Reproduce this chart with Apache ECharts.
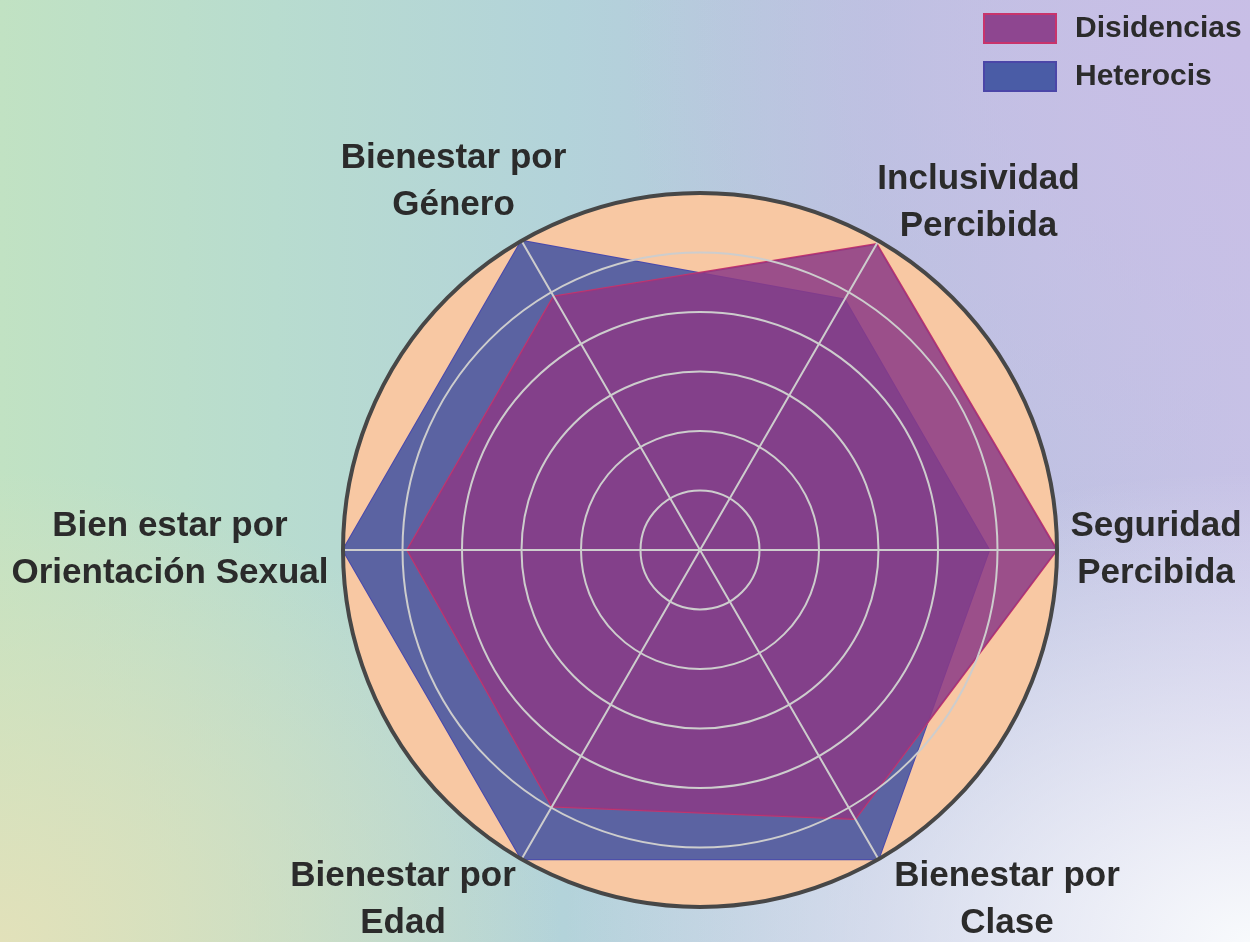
<!DOCTYPE html>
<html><head><meta charset="utf-8">
<script src="https://cdn.jsdelivr.net/npm/echarts@6/dist/echarts.min.js"></script>
<style>
html,body{margin:0;padding:0;width:1250px;height:942px;overflow:hidden}
body{background:
 radial-gradient(ellipse 55% 50% at 100% 100%, rgba(248,250,252,1) 0%, rgba(248,250,252,0) 100%),
 radial-gradient(ellipse 45% 50% at 0% 100%, rgba(226,225,186,1) 0%, rgba(226,225,186,0) 100%),
 radial-gradient(ellipse 50% 60% at 100% 5%, rgba(200,190,230,1) 0%, rgba(200,190,230,0) 100%),
 linear-gradient(90deg, #c1e2c3 0%, #b8dccf 22%, #b3d3da 45%, #b8c2df 70%, #c6c3e6 100%);}
#c{width:1250px;height:942px}
</style></head><body><div id="c"></div>
<script>
// ---- data ----
const categories = ['Inclusividad\nPercibida', 'Bienestar por\nGénero', 'Bien estar por\nOrientación Sexual', 'Bienestar por\nEdad', 'Bienestar por\nClase', 'Seguridad\nPercibida'];
const seriesNames = ['Disidencias', 'Heterocis'];
const disidencias = [0.99, 0.82, 0.82, 0.83, 0.87, 1.0];
const heterocis = [0.81, 1.0, 1.0, 1.0, 1.0, 0.81];
const maxValue = 1;

// ---- layout / style ----
const CENTER = [700, 550];
const RADIUS = 357;
const START = 60;
// per-label name gap and horizontal nudge (px)
const nameGaps = [44, 68, 80, 47, 47, 79];
const nameShiftX = [78, -34, -93, -95, 105, 20];
const labelFont = {color: '#2b2b2b', fontSize: 35, fontWeight: 'bold', fontFamily: '"Liberation Sans", Arial, sans-serif', lineHeight: 47};

const indicators = (showIdx) => categories.map((n, j) => ({name: showIdx === j ? n : '', max: maxValue, min: 0}));
const baseRadar = {center: CENTER, radius: RADIUS, startAngle: START, shape: 'circle', silent: true};

const radars = [
  Object.assign({}, baseRadar, {
    indicator: indicators(-1), splitNumber: 1, z: 1,
    axisName: {show: false},
    splitArea: {show: true, areaStyle: {color: ['#f8c8a3']}},
    splitLine: {show: false}, axisLine: {show: false}
  }),
  Object.assign({}, baseRadar, {
    indicator: indicators(-1), splitNumber: 6, z: 3,
    axisName: {show: false},
    splitArea: {show: false},
    splitLine: {show: true, lineStyle: {color: '#cdcdcd', width: 2}},
    axisLine: {show: true, lineStyle: {color: '#cdcdcd', width: 2}}
  }),
  Object.assign({}, baseRadar, {
    indicator: indicators(-1), splitNumber: 1, z: 4,
    axisName: {show: false},
    splitArea: {show: false},
    splitLine: {show: true, lineStyle: {color: '#474747', width: 4}},
    axisLine: {show: false}
  })
];
categories.forEach((c, i) => {
  const dx = nameShiftX[i];
  radars.push(Object.assign({}, baseRadar, {
    indicator: indicators(i), splitNumber: 1, z: 5, nameGap: nameGaps[i],
    axisName: Object.assign({show: true, align: 'center', verticalAlign: 'middle',
      padding: [0, Math.max(0, -2 * dx), 0, Math.max(0, 2 * dx)]}, labelFont),
    splitArea: {show: false}, splitLine: {show: false}, axisLine: {show: false}
  }));
});

const styles = {
  Disidencias: {area: '#8b3986', opacity: 0.85, line: '#c4356c', icon: '#8e4690', iconBorder: '#c8346c'},
  Heterocis: {area: '#5b63a2', opacity: 1, line: '#4848ad', icon: '#4a5ca6', iconBorder: '#4b46a8'}
};
const values = {Disidencias: disidencias, Heterocis: heterocis};

const chart = echarts.init(document.getElementById('c'), null, {renderer: 'canvas'});
chart.setOption({
  animation: false,
  backgroundColor: 'transparent',
  legend: {
    orient: 'vertical', left: 983, top: 13, padding: 0,
    itemWidth: 72, itemHeight: 29, itemGap: 17, icon: 'rect',
    textStyle: {fontSize: 30, fontWeight: 'bold', color: '#2b2b2b', fontFamily: '"Liberation Sans", Arial, sans-serif', padding: [0, 0, 0, 14]},
    data: seriesNames.map(n => ({name: n, itemStyle: {color: styles[n].icon, borderColor: styles[n].iconBorder, borderWidth: 2}}))
  },
  radar: radars,
  series: [{
    type: 'radar', radarIndex: 0, z: 2, symbol: 'none', silent: true,
    data: ['Heterocis', 'Disidencias'].map(n => ({
      name: n, value: values[n],
      areaStyle: {color: styles[n].area, opacity: styles[n].opacity},
      lineStyle: {color: styles[n].line, width: 2},
      itemStyle: {color: styles[n].icon}
    }))
  }]
});
</script></body></html>
